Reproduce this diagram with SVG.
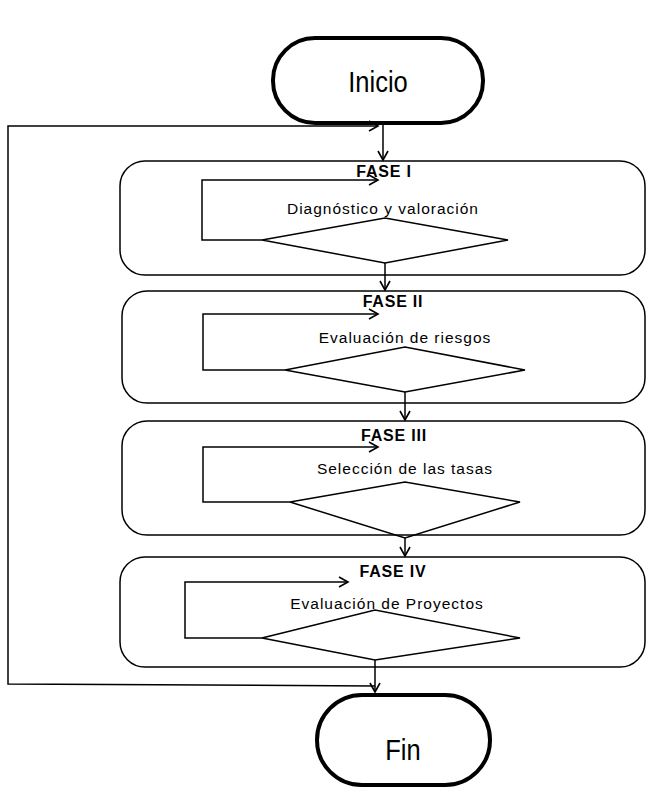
<svg xmlns="http://www.w3.org/2000/svg" width="657" height="799" viewBox="0 0 657 799">
<defs>
<marker id="ah" markerWidth="12" markerHeight="12" refX="10" refY="6" orient="auto" markerUnits="userSpaceOnUse"><path d="M1,1 L10,6 L1,11" fill="none" stroke="#000" stroke-width="1.6"/></marker>
<style>
.box{fill:#fff;stroke:#000;stroke-width:1.5}
.pill{fill:#fff;stroke:#000;stroke-width:4}
.ln{fill:none;stroke:#000;stroke-width:1.5}
.ph{font-family:"Liberation Sans",Arial,sans-serif;font-weight:bold;font-size:16px;text-anchor:middle;letter-spacing:0.8px}
.tx{font-family:"Liberation Sans",Arial,sans-serif;font-size:15.5px;text-anchor:middle;letter-spacing:1px}
.big{font-family:"Liberation Sans Narrow","Liberation Sans",Arial,sans-serif;font-size:30px;text-anchor:middle}
</style>
</defs>
<rect width="657" height="799" fill="#fff"/>
<g id="inicio"><rect class="pill" x="273" y="38" width="210" height="85" rx="42"/><text class="big" x="378" y="92" transform="translate(378 0) scale(0.85 1) translate(-378 0)">Inicio</text></g>
<g id="fase1"><rect class="box" x="120" y="161" width="525" height="114" rx="25"/><text class="ph" x="384" y="177">FASE I</text><text class="tx" x="383" y="214">Diagnóstico y valoración</text><polygon class="ln" points="262,240 385,218 508,240 385,263"/><path class="ln" d="M262,240 H202 V180 H378" marker-end="url(#ah)"/></g>
<g id="fase2"><rect class="box" x="122" y="291" width="523" height="112" rx="25"/><text class="ph" x="393" y="307">FASE II</text><text class="tx" x="405" y="343">Evaluación de riesgos</text><polygon class="ln" points="285,370 405,347 525,370 405,392"/><path class="ln" d="M285,370 H203 V314 H378" marker-end="url(#ah)"/></g>
<g id="fase3"><rect class="box" x="122" y="421" width="523" height="114" rx="25"/><text class="ph" x="394" y="441">FASE III</text><text class="tx" x="405" y="474">Selección de las tasas</text><polygon class="ln" points="290,502 405,482 520,502 405,538"/><path class="ln" d="M290,502 H203 V447 H378" marker-end="url(#ah)"/></g>
<g id="fase4"><rect class="box" x="120" y="557" width="525" height="110" rx="25"/><text class="ph" x="393" y="577">FASE IV</text><text class="tx" x="387" y="609">Evaluación de Proyectos</text><polygon class="ln" points="262,638 375,610 520,638 375,660"/><path class="ln" d="M262,638 H185 V582 H348" marker-end="url(#ah)"/></g>
<g id="fin"><rect class="pill" x="317" y="695" width="173" height="90" rx="45"/><text class="big" x="403" y="760" transform="translate(403 0) scale(0.85 1) translate(-403 0)">Fin</text></g>
<g id="connectors">
<path class="ln" d="M383,123 V160" marker-end="url(#ah)"/>
<path class="ln" d="M385,263 V290" marker-end="url(#ah)"/>
<path class="ln" d="M405,392 V420" marker-end="url(#ah)"/>
<path class="ln" d="M405,538 V556" marker-end="url(#ah)"/>
<path class="ln" d="M375,660 V692" marker-end="url(#ah)"/>
<path class="ln" d="M375,686 L8,684 V126 L378,126" marker-end="url(#ah)"/>
</g>
</svg>
